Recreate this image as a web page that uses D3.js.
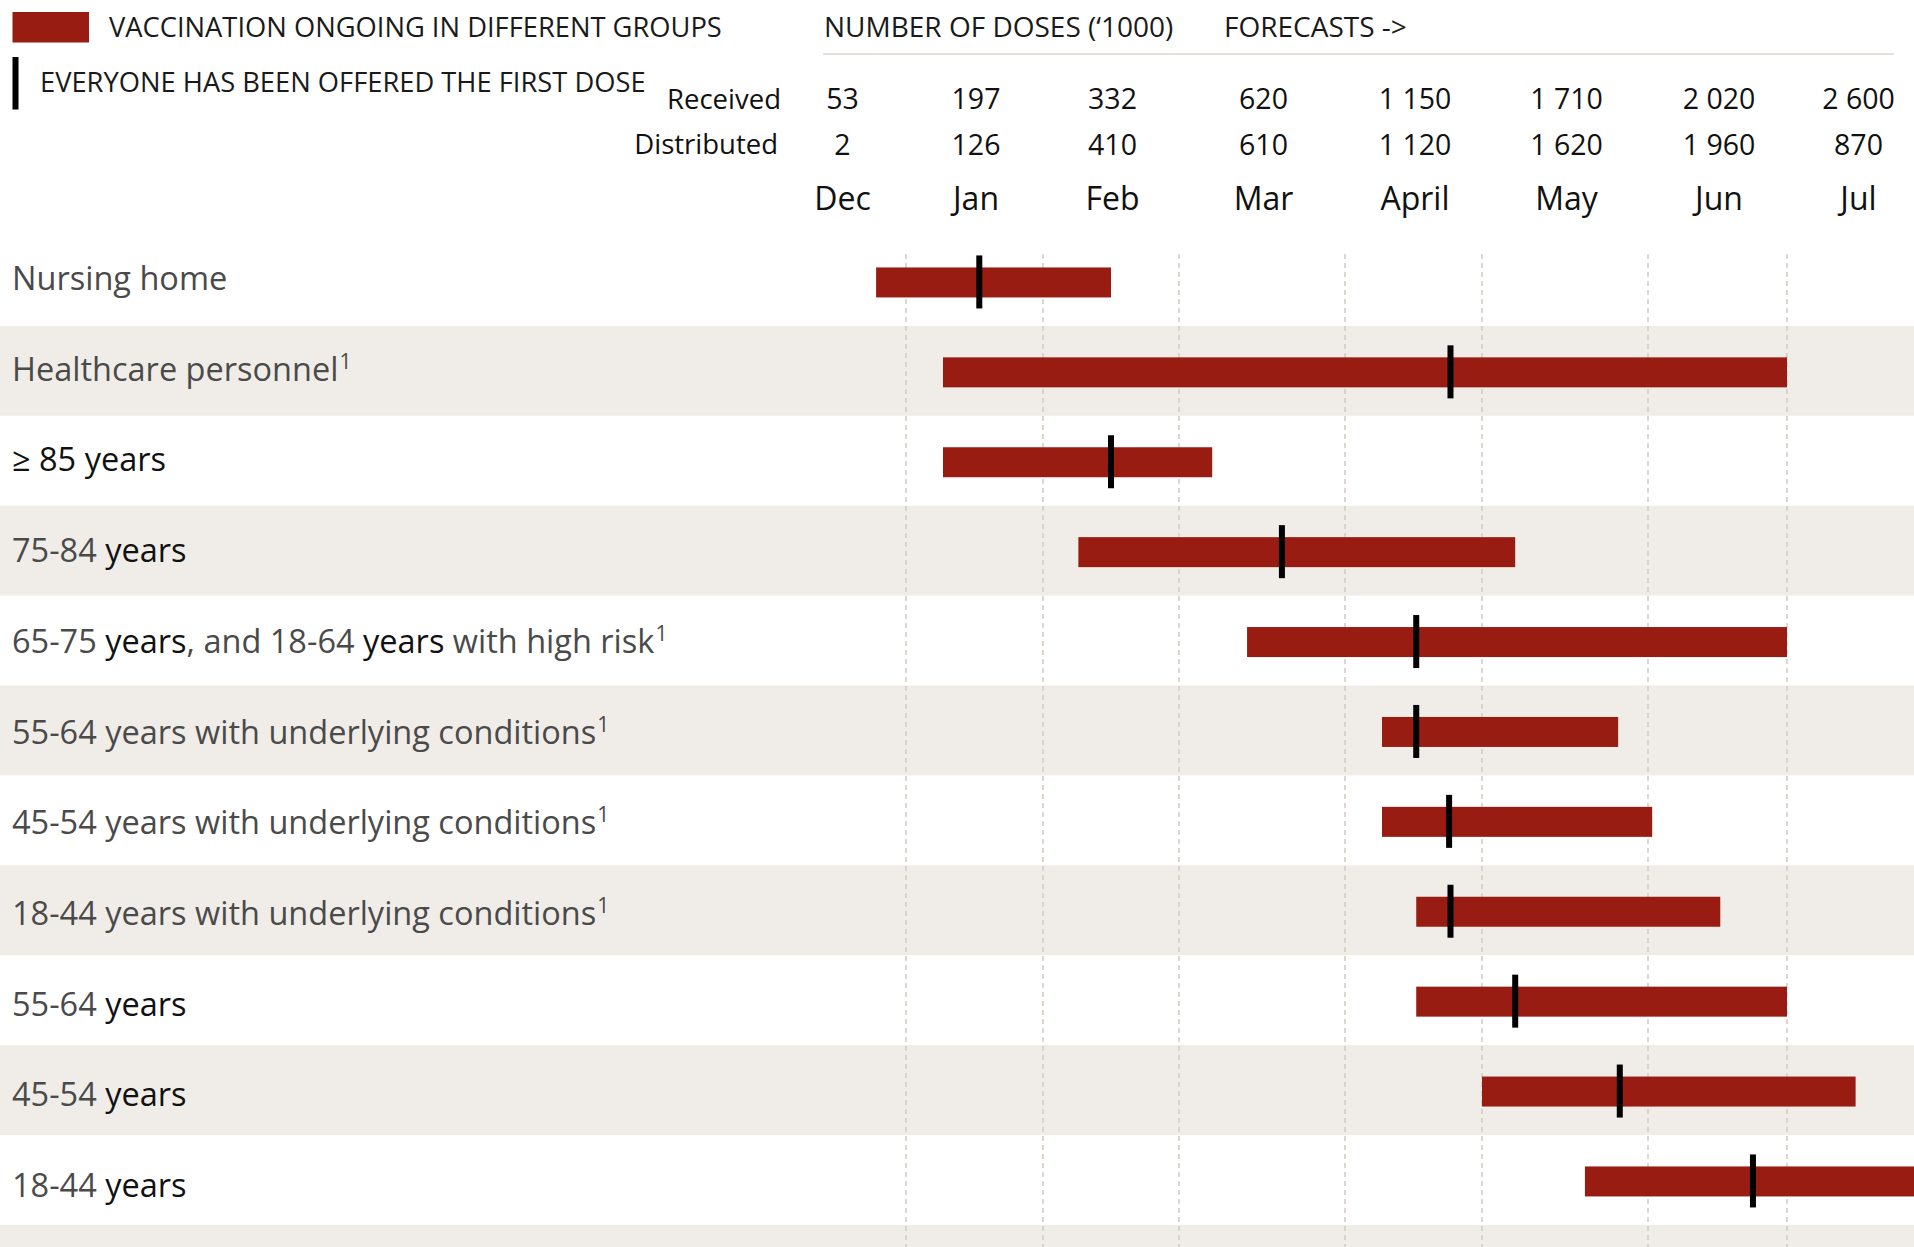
<!DOCTYPE html>
<html lang="en">
<head>
  <meta charset="UTF-8">
  <title>Vaccination schedule by group</title>
  <script src="https://d3js.org/d3.v7.min.js"></script>
  <style>
    body {
      margin: 0;
      padding: 0;
      background: white;
      overflow: hidden;
    }
    svg text {
      font-family: "Open Sans", sans-serif;
    }
  </style>
</head>
<body>
  <svg id="chart" width="1914" height="1247"></svg>

  <script>
    // Header columns (one per month) and the dose counts ('1000)
    const months = ["Dec", "Jan", "Feb", "Mar", "April", "May", "Jun", "Jul"];
    const received = ["53", "197", "332", "620", "1 150", "1 710", "2 020", "2 600"];
    const distributed = ["2", "126", "410", "610", "1 120", "1 620", "1 960", "870"];

    // Group labels: {..} = dark text, ^1 = footnote
    const groups = [
      "Nursing home",
      "Healthcare personnel^1",
      "{≥ 85 years}",
      "75-84 {years}",
      "65-75 {years}, and 18-64 {years} with high risk^1",
      "55-64 years with underlying conditions^1",
      "45-54 years with underlying conditions^1",
      "18-44 years with underlying conditions^1",
      "55-64 {years}",
      "45-54 {years}",
      "18-44 {years}"
    ];

    // Timeline values in months counted from the start of December
    const starts    = [0.77, 1.27, 1.27, 2.26, 3.41, 4.27, 4.27, 4.52, 4.52, 5.0, 5.62];
    const ends      = [2.5, 7.0, 3.2, 5.2, 7.0, 5.82, 6.03, 6.52, 7.0, 7.49, 8.0];
    const firstDose = [1.535, 4.77, 2.5, 3.62, 4.52, 4.52, 4.76, 4.77, 5.2, 5.83, 6.755];

    const svg = d3.select("#chart");
    const width = +svg.attr("width");
    const height = +svg.attr("height");

    const red = "#981c12";
    const stripe = "#f0ede8";
    const gray = "#4a4a4a";
    const dark = "#111";

    // month boundaries are not evenly spaced in the original, so a piecewise scale
    const x = d3.scaleLinear()
      .domain(d3.range(months.length + 1))
      .range([776, 906, 1043, 1179, 1345, 1482, 1648, 1787, 1927]);

    // one extra band at the bottom for the trailing stripe
    const rowStep = 89.9;
    const y = d3.scaleBand()
      .domain(d3.range(groups.length + 1))
      .range([236, 236 + rowStep * (groups.length + 1)]);
    const rowMid = i => y(i) + y.bandwidth() / 2;

    // labels sit on a slightly wider spacing than the bars
    const labelY = d3.scaleLinear()
      .domain([0, groups.length - 1])
      .range([290, 1197]);

    // background stripes
    svg.append("g")
      .selectAll("rect")
      .data(y.domain().filter(i => i % 2 === 1))
      .join("rect")
      .attr("x", 0)
      .attr("y", d => y(d))
      .attr("width", width)
      .attr("height", d => d === groups.length ? height - y(d) : y.bandwidth())
      .attr("fill", stripe);

    // dashed month gridlines
    svg.append("g")
      .selectAll("line")
      .data(d3.range(1, months.length))
      .join("line")
      .attr("x1", d => x(d))
      .attr("x2", d => x(d))
      .attr("y1", 254)
      .attr("y2", height)
      .attr("stroke", "#d2cac0")
      .attr("stroke-width", 1.5)
      .attr("stroke-dasharray", "5,4");

    // ---- legend ----
    svg.append("rect")
      .attr("x", 12.5).attr("y", 12)
      .attr("width", 76.5).attr("height", 30.5)
      .attr("fill", red);
    svg.append("text")
      .attr("x", 109).attr("y", 36.5)
      .attr("font-size", 27.3)
      .attr("fill", "#1a1a1a")
      .text("VACCINATION ONGOING IN DIFFERENT GROUPS");

    svg.append("rect")
      .attr("x", 12.5).attr("y", 57)
      .attr("width", 6).attr("height", 52.5)
      .attr("fill", "black");
    svg.append("text")
      .attr("x", 40).attr("y", 92)
      .attr("font-size", 27.3)
      .attr("fill", "#1a1a1a")
      .text("EVERYONE HAS BEEN OFFERED THE FIRST DOSE");

    // ---- dose table header ----
    svg.append("text")
      .attr("x", 824).attr("y", 36.5)
      .attr("font-size", 28)
      .attr("fill", "#1a1a1a")
      .text("NUMBER OF DOSES (‘1000)");
    svg.append("text")
      .attr("x", 1224).attr("y", 36.5)
      .attr("font-size", 28)
      .attr("fill", "#1a1a1a")
      .text("FORECASTS ->");
    svg.append("line")
      .attr("x1", 823).attr("x2", 1894)
      .attr("y1", 54).attr("y2", 54)
      .attr("stroke", "#dcd6cc")
      .attr("stroke-width", 1.5);

    svg.append("text")
      .attr("x", 781).attr("y", 109)
      .attr("text-anchor", "end")
      .attr("font-size", 27.5)
      .attr("fill", dark)
      .text("Received");
    svg.append("text")
      .attr("x", 778).attr("y", 154)
      .attr("text-anchor", "end")
      .attr("font-size", 27.5)
      .attr("fill", dark)
      .text("Distributed");

    const colX = i => x(i + 0.5) + 1.5;

    svg.append("g")
      .selectAll("text")
      .data(received)
      .join("text")
      .attr("x", (d, i) => colX(i))
      .attr("y", 109)
      .attr("text-anchor", "middle")
      .attr("font-size", 28.5)
      .attr("fill", dark)
      .text(d => d);

    svg.append("g")
      .selectAll("text")
      .data(distributed)
      .join("text")
      .attr("x", (d, i) => colX(i))
      .attr("y", 155)
      .attr("text-anchor", "middle")
      .attr("font-size", 28.5)
      .attr("fill", dark)
      .text(d => d);

    svg.append("g")
      .selectAll("text")
      .data(months)
      .join("text")
      .attr("x", (d, i) => colX(i))
      .attr("y", 210)
      .attr("text-anchor", "middle")
      .attr("font-size", 32)
      .attr("fill", dark)
      .text(d => d);

    // ---- row labels ----
    function parseLabel(s) {
      // split "{dark}" and "^1" pieces out of the label string
      const parts = [];
      const re = /\{([^}]*)\}|\^(\d)|([^{^]+)/g;
      let m;
      while ((m = re.exec(s)) !== null) {
        if (m[1] !== undefined) parts.push({ t: m[1], dark: true });
        else if (m[2] !== undefined) parts.push({ t: m[2], sup: true });
        else parts.push({ t: m[3] });
      }
      return parts;
    }

    const labels = svg.append("g")
      .selectAll("text")
      .data(groups)
      .join("text")
      .attr("x", 12)
      .attr("y", (d, i) => labelY(i))
      .attr("font-size", 32.5)
      .attr("fill", gray)
      .attr("xml:space", "preserve")
      .style("white-space", "pre");

    labels.each(function (d) {
      const t = d3.select(this);
      parseLabel(d).forEach(p => {
        if (p.sup) {
          t.append("tspan")
            .attr("font-size", 21)
            .attr("dx", 1)
            .attr("dy", -12)
            .text(p.t);
        } else {
          t.append("tspan")
            .attr("fill", p.dark ? dark : gray)
            .text(p.t);
        }
      });
    });

    // ---- bars and first-dose markers ----
    const rows = groups.map((g, i) => ({ i, start: starts[i], end: ends[i], dose: firstDose[i] }));

    svg.append("g")
      .selectAll("rect")
      .data(rows)
      .join("rect")
      .attr("x", d => x(d.start))
      .attr("y", d => rowMid(d.i) + 1.5 - 15)
      .attr("width", d => x(d.end) - x(d.start))
      .attr("height", 30)
      .attr("fill", red);

    svg.append("g")
      .selectAll("rect")
      .data(rows)
      .join("rect")
      .attr("x", d => x(d.dose) - 3)
      .attr("y", d => rowMid(d.i) + 1 - 26.5)
      .attr("width", 6)
      .attr("height", 53)
      .attr("fill", "black");
  </script>
</body>
</html>
